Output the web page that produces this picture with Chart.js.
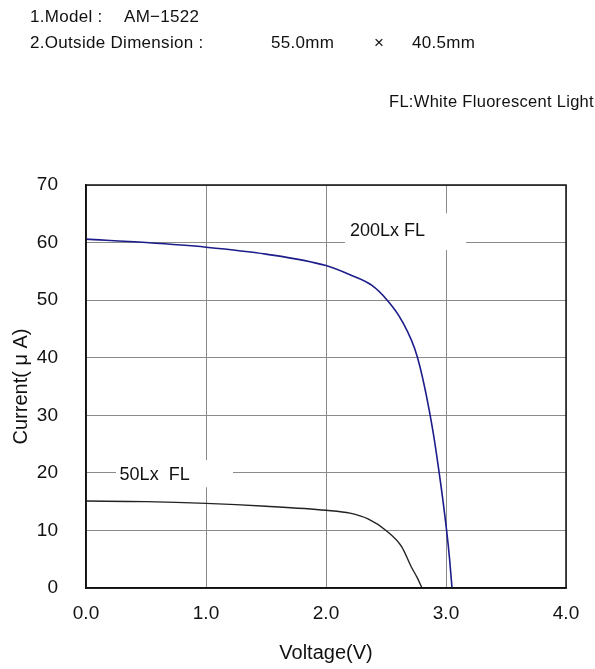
<!DOCTYPE html>
<html>
<head>
<meta charset="utf-8">
<script src="https://cdn.jsdelivr.net/npm/chart.js@4"></script>
<style>
  body { margin: 0; background: #fff; font-family: "Liberation Sans", Arial, sans-serif; color: #111; }
  #wrap { position: relative; width: 595px; height: 669px; }
  #chartBox { position: absolute; left: 0; top: 0; width: 595px; height: 669px; }
  .hdr { position: absolute; font-size: 17px; white-space: pre; letter-spacing: 0.3px; }
</style>
</head>
<body>
<div id="wrap">
  <div id="chartBox"><canvas id="ivChart"></canvas></div>
  <div class="hdr" style="left:30px; top:7px;">1.Model :</div>
  <div class="hdr" style="left:124px; top:7px;">AM&minus;1522</div>
  <div class="hdr" style="left:30px; top:33px;">2.Outside Dimension :</div>
  <div class="hdr" style="left:271px; top:33px;">55.0mm</div>
  <div class="hdr" style="left:374px; top:33px;">×</div>
  <div class="hdr" style="left:412px; top:33px;">40.5mm</div>
  <div class="hdr" style="right:1px; top:92px; font-size:16.5px;">FL:White Fluorescent Light</div>
</div>
<script>
/* ---- data ---- */
const voltage200 = [0.0, 0.5, 1.0, 1.5, 2.0, 2.2, 2.38, 2.51, 2.63, 2.76, 2.88, 2.95, 3.005, 3.03, 3.05];
const current200 = [60.6, 60.0, 59.2, 58.0, 56.0, 54.4, 52.6, 50.0, 46.5, 40.2, 28.6, 19.0, 10.0, 5.0, 0.0];

const voltage50 = [0.0, 0.5, 1.0, 1.5, 2.0, 2.2, 2.35, 2.5, 2.63, 2.71, 2.76, 2.8];
const current50 = [15.1, 15.0, 14.7, 14.2, 13.5, 13.0, 12.0, 10.0, 7.2, 3.7, 1.8, 0.0];

const xTicks = [0, 1, 2, 3, 4];
const yTicks = [0, 10, 20, 30, 40, 50, 60, 70];

const curveLabels = [
  { text: "200Lx FL", box: [2.158, 3.167, 65.1, 58.7], at: [2.2, 62.0] },
  { text: "50Lx  FL", box: [0.25, 1.225, 22.2, 17.5], at: [0.28, 19.6] },
];

function toPoints(xs, ys) {
  return xs.map((x, i) => ({ x: x, y: ys[i] }));
}

const TICK_FONT = { family: "Liberation Sans, Arial, sans-serif", size: 19 };

// white boxes + labels that interrupt the grid
const curveLabelPlugin = {
  id: "curveLabels",
  beforeDatasetsDraw(chart) {
    const { ctx, scales } = chart;
    const xs = scales.x, ys = scales.y;
    ctx.save();
    curveLabels.forEach((l) => {
      const x0 = xs.getPixelForValue(l.box[0]);
      const x1 = xs.getPixelForValue(l.box[1]);
      const y0 = ys.getPixelForValue(l.box[2]);
      const y1 = ys.getPixelForValue(l.box[3]);
      ctx.fillStyle = "#fff";
      ctx.fillRect(x0, y0, x1 - x0, y1 - y0);
      ctx.fillStyle = "#111";
      ctx.font = "18px Liberation Sans, Arial, sans-serif";
      ctx.textBaseline = "middle";
      ctx.textAlign = "left";
      ctx.fillText(l.text, xs.getPixelForValue(l.at[0]), ys.getPixelForValue(l.at[1]));
    });
    ctx.restore();
  },
  afterDraw(chart) {
    // outer frame
    const a = chart.chartArea;
    const ctx = chart.ctx;
    ctx.save();
    ctx.strokeStyle = "#111";
    ctx.lineWidth = 1.5;
    ctx.strokeRect(a.left, a.top, a.right - a.left, a.bottom - a.top);
    ctx.restore();
  },
};

new Chart(document.getElementById("ivChart"), {
  type: "line",
  data: {
    datasets: [
      {
        label: "200Lx FL",
        data: toPoints(voltage200, current200),
        borderColor: "#1c1c8a",
        borderWidth: 1.6,
        pointRadius: 0,
        cubicInterpolationMode: "monotone",
      },
      {
        label: "50Lx FL",
        data: toPoints(voltage50, current50),
        borderColor: "#222",
        borderWidth: 1.4,
        pointRadius: 0,
        cubicInterpolationMode: "monotone",
      },
    ],
  },
  options: {
    responsive: true,
    maintainAspectRatio: false,
    animation: false,
    layout: { padding: { top: 185, right: 29, left: 0, bottom: 0 } },
    plugins: { legend: { display: false }, tooltip: { enabled: false } },
    scales: {
      x: {
        type: "linear",
        min: 0,
        max: 4,
        afterBuildTicks: (s) => { s.ticks = xTicks.map((v) => ({ value: v })); },
        afterFit: (s) => { s.height = 81; },
        ticks: {
          color: "#111",
          font: TICK_FONT,
          padding: 14,
          maxRotation: 0,
          callback: (v) => Number(v).toFixed(1),
        },
        grid: { color: "#8a8a8a", lineWidth: 1, drawTicks: false },
        border: { color: "#111", width: 1.5 },
        title: {
          display: true,
          text: "Voltage(V)",
          color: "#111",
          font: { family: "Liberation Sans, Arial, sans-serif", size: 20 },
          padding: { top: 0, bottom: 4 },
        },
      },
      y: {
        type: "linear",
        min: 0,
        max: 70,
        afterBuildTicks: (s) => { s.ticks = yTicks.map((v) => ({ value: v })); },
        afterFit: (s) => { s.width = 86; },
        ticks: { color: "#111", font: TICK_FONT, padding: 28 },
        grid: { color: "#8a8a8a", lineWidth: 1, drawTicks: false },
        border: { color: "#111", width: 1.5 },
        title: {
          display: true,
          text: "Current( μ A)",
          color: "#111",
          font: { family: "Liberation Sans, Arial, sans-serif", size: 20 },
          padding: { top: 9, bottom: 0 },
        },
      },
    },
  },
  plugins: [curveLabelPlugin],
});
</script>
</body>
</html>
